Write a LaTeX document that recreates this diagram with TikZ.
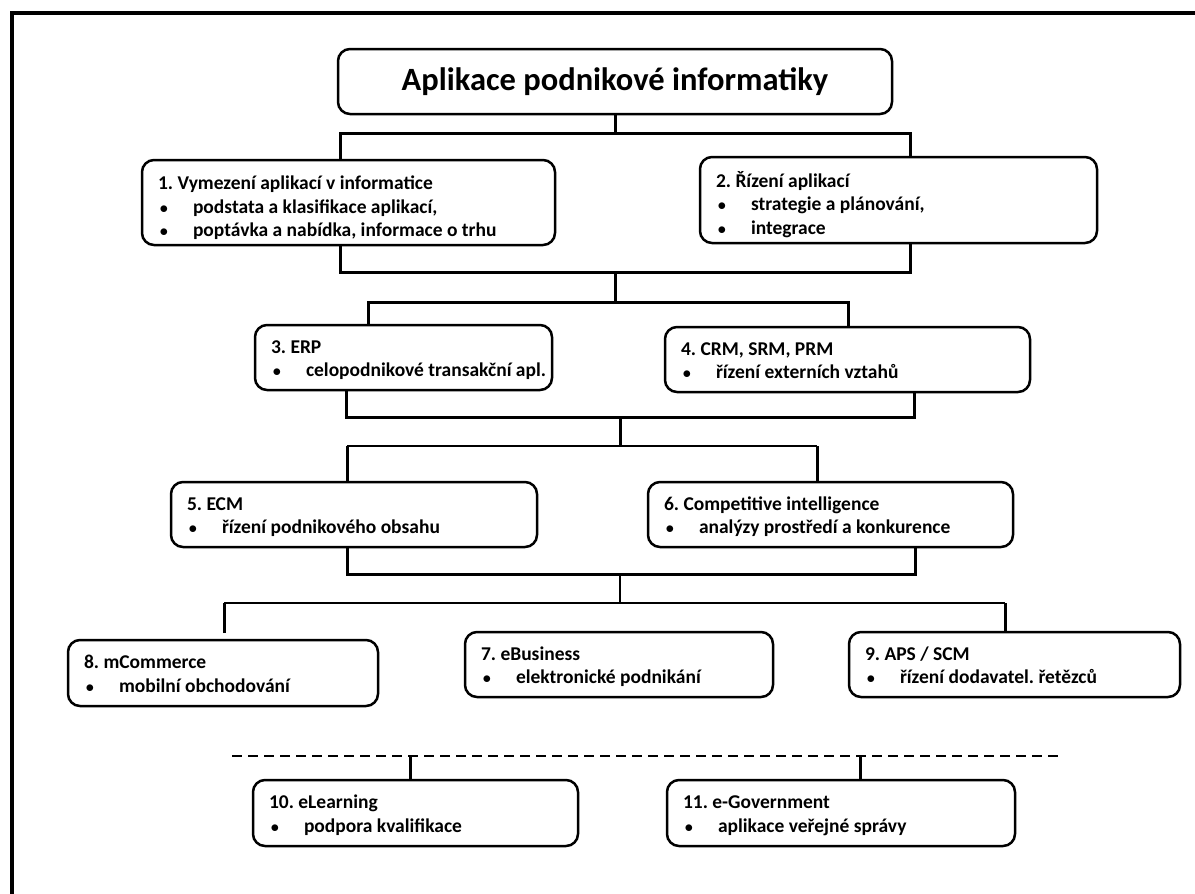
\documentclass[tikz,border=0pt]{standalone}
\usepackage{fontspec}
\setmainfont{Carlito}
\frenchspacing
\newcommand\myb{\makebox[35pt][l]{\hspace{1.5pt}{\fontsize{17}{17}\selectfont$\bullet$}}}
\newcommand\boxtext[2]{\makebox[#1][l]{\begin{tabular}{@{}l@{}}#2\end{tabular}}}
\newcommand\lowr{\rule{0pt}{29pt}}
\newcommand\lowt{\rule{0pt}{22pt}}
\tikzset{
  box/.style={draw, line width=2.5pt, rounded corners=12pt, inner xsep=16pt, inner ysep=0pt,
    font=\fontsize{19.5}{23.5}\selectfont\bfseries},
  conn/.style={line width=3pt},
  thinconn/.style={line width=2pt},
  frame/.style={line width=4pt},
}
\begin{document}
\begin{tikzpicture}[x=1pt,y=-1pt]
\useasboundingbox (0,0) rectangle (1195,894);
\draw[frame] (12,896) -- (12,13) -- (1197,13);

\node[draw, line width=2.5pt, rounded corners=12pt, inner sep=0pt, minimum width=554pt, minimum height=65pt,
  font=\fontsize{32.5}{38}\selectfont\bfseries] (t) at (615,81.5) {Aplikace podnikové informatiky};

\node[box, minimum width=413pt, minimum height=85pt] (b1) at (348.5,202.5)
  {\boxtext{381pt}{\lowr 1. Vymezení aplikací v informatice\\ \myb podstata a klasifikace aplikací,\\ \myb poptávka a nabídka, informace o trhu}};
\node[box, minimum width=397pt, minimum height=86pt] (b2) at (898.5,200)
  {\boxtext{365pt}{\lowr 2. Řízení aplikací\\ \myb strategie a plánování,\\ \myb integrace}};
\node[box, minimum width=297pt, minimum height=65pt] (b3) at (403.5,357.5)
  {\boxtext{265pt}{\lowt 3. ERP\\ \myb celopodnikové transakční apl.}};
\node[box, minimum width=365pt, minimum height=65pt] (b4) at (847.5,359.5)
  {\boxtext{333pt}{\lowt 4. CRM, SRM, PRM\\ \myb řízení externích vztahů}};
\node[box, minimum width=366pt, minimum height=65pt] (b5) at (354,514.5)
  {\boxtext{334pt}{\lowt 5. ECM\\ \myb řízení podnikového obsahu}};
\node[box, minimum width=365pt, minimum height=65pt] (b6) at (830.5,514.5)
  {\boxtext{333pt}{\lowt 6. Competitive intelligence\\ \myb analýzy prostředí a konkurence}};
\node[box, minimum width=310pt, minimum height=66pt] (b8) at (223,673)
  {\boxtext{278pt}{\lowt 8. mCommerce\\ \myb mobilní obchodování}};
\node[box, minimum width=308pt, minimum height=65pt] (b7) at (619,664.5)
  {\boxtext{276pt}{\lowt 7. eBusiness\\ \myb elektronické podnikání}};
\node[box, minimum width=331pt, minimum height=65pt] (b9) at (1014.5,664.5)
  {\boxtext{299pt}{\lowt 9. APS / SCM\\ \myb řízení dodavatel. řetězců}};
\node[box, minimum width=325pt, minimum height=66pt] (b10) at (415.5,813)
  {\boxtext{293pt}{\lowt 10. eLearning\\ \myb podpora kvalifikace}};
\node[box, minimum width=348pt, minimum height=66pt] (b11) at (841,813)
  {\boxtext{316pt}{\lowt 11. e-Government\\ \myb aplikace veřejné správy}};

% junction coordinates
\coordinate (a1) at (340,133); \coordinate (a2) at (910,133);
\coordinate (c1) at (340,272); \coordinate (c2) at (910,272); \coordinate (cm) at (615,272);
\coordinate (d1) at (368,302); \coordinate (d2) at (848,302);
\coordinate (e1) at (346,417); \coordinate (e2) at (914,417); \coordinate (em) at (620,417);
\coordinate (f1) at (347,446); \coordinate (f2) at (817,446);
\coordinate (g1) at (347,574); \coordinate (g2) at (915,574); \coordinate (gm) at (620,574);
\coordinate (h1) at (224,603); \coordinate (h2) at (1005,603); \coordinate (h0) at (224,633);
\coordinate (k1) at (232,756); \coordinate (k2) at (1063,756);
\coordinate (k3) at (410,756); \coordinate (k4) at (860,756);

\draw[conn] (t.south) -- (t.south |- a1);
\draw[conn] (b1.north -| a1) -- (a1) -- (a2) -- (b2.north -| a2);
\draw[conn] (b1.south -| c1) -- (c1) -- (c2) -- (b2.south -| c2);
\draw[conn] (cm) -- (cm |- d1);
\draw[conn] (b3.north -| d1) -- (d1) -- (d2) -- (b4.north -| d2);
\draw[conn] (b3.south -| e1) -- (e1) -- (e2) -- (b4.south -| e2);
\draw[conn] (em) -- (em |- f1);
\draw[thinconn] (f1) -- (f2);
\draw[conn] (b5.north -| f1) -- (f1);
\draw[conn] (b6.north -| f2) -- (f2);
\draw[conn] (b5.south -| g1) -- (g1) -- (g2) -- (b6.south -| g2);
\draw[thinconn] (gm) -- (gm |- h1);
\draw[thinconn] (h1) -- (h2);
\draw[conn] (h0) -- (h1);
\draw[conn] (b9.north -| h2) -- (h2);
\draw[line width=2pt, dash pattern=on 10pt off 6pt] (k1) -- (k2);
\draw[conn] (k3) -- (b10.north -| k3);
\draw[conn] (k4) -- (b11.north -| k4);
\end{tikzpicture}
\end{document}
